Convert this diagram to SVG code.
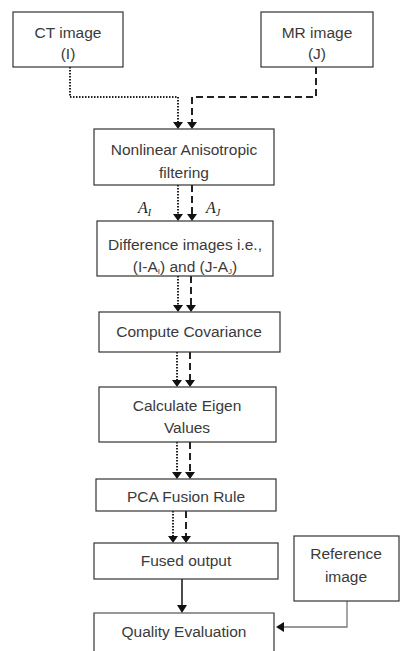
<svg xmlns="http://www.w3.org/2000/svg" width="400" height="651" viewBox="0 0 400 651">
<defs>
<style>
.box{fill:#fff;stroke:#333;stroke-width:1.2}
.t{font-family:"Liberation Sans",Arial,sans-serif;font-size:15.5px;fill:#3a3a3a;text-anchor:middle}
.m{font-family:"Liberation Serif","DejaVu Serif",serif;font-style:italic;font-size:16px;fill:#222}
.ms{font-size:10px}
.sub{font-size:8px}
.dot{fill:none;stroke:#222;stroke-width:2;stroke-dasharray:1.5,1.5}
.dash{fill:none;stroke:#222;stroke-width:2;stroke-dasharray:7,4}
.sol{fill:none;stroke:#111;stroke-width:1.5}
.gray{fill:none;stroke:#777;stroke-width:1.3}
</style>
</defs>
<rect width="400" height="651" fill="#fff"/>
<g id="connectors">
<path class="dot" d="M70,67 V97 H178 V124" />
<path class="dash" d="M316,67 V97 H192 V124" />
<path d="M173,122 L183,122 L178,129 z M187,122 L197,122 L192,129 z" fill="#111"/>
<path class="dot" d="M178,185 V216" />
<path class="dash" d="M192,185 V216" />
<path d="M173,214 L183,214 L178,221 z M187,214 L197,214 L192,221 z" fill="#111"/>
<path class="dot" d="M178,276 V307" />
<path class="dash" d="M191,276 V307" />
<path d="M173,305 L183,305 L178,312 z M186,305 L196,305 L191,312 z" fill="#111"/>
<path class="dot" d="M177,352 V382" />
<path class="dash" d="M190,352 V382" />
<path d="M172,380 L182,380 L177,387 z M185,380 L195,380 L190,387 z" fill="#111"/>
<path class="dot" d="M177,442 V474" />
<path class="dash" d="M190,442 V474" />
<path d="M172,472 L182,472 L177,479 z M185,472 L195,472 L190,479 z" fill="#111"/>
<path class="dot" d="M173,511 V538" />
<path class="dash" d="M186,511 V538" />
<path d="M168,536 L178,536 L173,543 z M181,536 L191,536 L186,543 z" fill="#111"/>
<path class="sol" d="M182,579 V607" />
<path d="M177,605 L187,605 L182,613 z" fill="#111"/>
<path class="gray" d="M347,601 V627 H282" />
<path d="M284,622 L284,632 L276,627 z" fill="#111"/>
</g>
<g id="ct">
<rect class="box" x="13" y="12" width="110" height="55"/>
<text class="t" x="68" y="38">CT image</text>
<text class="t" x="68" y="59">(I)</text>
</g>
<g id="mr">
<rect class="box" x="261" y="12" width="112" height="55"/>
<text class="t" x="317" y="38">MR image</text>
<text class="t" x="317" y="59">(J)</text>
</g>
<g id="nonlinear">
<rect class="box" x="94" y="129" width="180" height="56"/>
<text class="t" x="184" y="155">Nonlinear Anisotropic</text>
<text class="t" x="184" y="178">filtering</text>
</g>
<g id="labels">
<text class="m" x="138" y="213">A<tspan class="ms" dy="3">I</tspan></text>
<text class="m" x="206" y="213">A<tspan class="ms" dy="3">J</tspan></text>
</g>
<g id="difference">
<rect class="box" x="97" y="221" width="176" height="55"/>
<text class="t" x="185" y="250">Difference images i.e.,</text>
<text class="t" x="185" y="272">(I-A<tspan class="sub" dy="2">I</tspan><tspan dy="-2">) and (J-A</tspan><tspan class="sub" dy="2">J</tspan><tspan dy="-2">)</tspan></text>
</g>
<g id="covariance">
<rect class="box" x="99" y="312" width="181" height="40"/>
<text class="t" x="189" y="337">Compute Covariance</text>
</g>
<g id="eigen">
<rect class="box" x="99" y="387" width="177" height="55"/>
<text class="t" x="187" y="411">Calculate Eigen</text>
<text class="t" x="187" y="433">Values</text>
</g>
<g id="pca">
<rect class="box" x="96" y="479" width="180" height="32"/>
<text class="t" x="186" y="502">PCA Fusion Rule</text>
</g>
<g id="fused">
<rect class="box" x="94" y="543" width="184" height="36"/>
<text class="t" x="186" y="566">Fused output</text>
</g>
<g id="reference">
<rect class="box" x="294" y="536" width="105" height="65"/>
<text class="t" x="346" y="559">Reference</text>
<text class="t" x="346" y="582">image</text>
</g>
<g id="quality">
<path class="box" d="M94,655 V613 H274 V655"/>
<text class="t" x="184" y="637">Quality Evaluation</text>
</g>
</svg>
